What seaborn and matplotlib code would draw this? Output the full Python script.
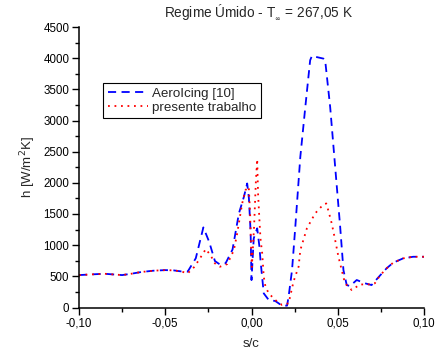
import matplotlib
matplotlib.use("Agg")
import matplotlib.pyplot as plt
import seaborn as sns
import pandas as pd
from matplotlib.ticker import MultipleLocator, FuncFormatter

# ---- data ----
s_aero = [-0.100, -0.090, -0.085, -0.080, -0.075, -0.070, -0.064, -0.057, -0.050, -0.045,
          -0.041, -0.037, -0.0323, -0.0279, -0.0245, -0.0212, -0.0183, -0.015, -0.011, -0.0073,
          -0.0044, -0.0025, -0.0015, -0.0005, 0.0, 0.0013, 0.0033, 0.0046, 0.0052, 0.0071,
          0.0100, 0.0138, 0.0177, 0.0206, 0.0215, 0.0235, 0.0254, 0.0283, 0.0312, 0.0340,
          0.0350, 0.0417, 0.0427, 0.0456, 0.0485, 0.0514, 0.0533, 0.0552, 0.0571, 0.0610,
          0.0658, 0.0696, 0.0744, 0.0783, 0.0821, 0.0879, 0.0937, 0.100]
h_aero = [520, 535, 541, 530, 520, 540, 569, 590, 600, 595,
          580, 575, 790, 1285, 1050, 745, 690, 710, 930, 1510,
          1776, 1990, 1750, 1200, 440, 1110, 1270, 975, 760, 227,
          120, 104, 29, 30, 173, 600, 1295, 2417, 3218, 3966,
          4035, 3993, 3966, 3218, 2256, 1295, 600, 360, 344, 441,
          388, 360, 510, 628, 718, 788, 814, 814]

s_pres = [-0.100, -0.090, -0.085, -0.080, -0.075, -0.070, -0.064, -0.057, -0.050, -0.045,
          -0.041, -0.037, -0.0334, -0.0305, -0.0265, -0.0237, -0.0212, -0.0183, -0.014, -0.0102,
          -0.0083, -0.0054, -0.0035, -0.0016, -0.0008, -0.0002, 0.0002, 0.0015, 0.0025, 0.0033,
          0.0038, 0.0046, 0.0052, 0.0062, 0.0071, 0.0081, 0.0100, 0.0138, 0.0177, 0.0215,
          0.0244, 0.0273, 0.0283, 0.0321, 0.0369, 0.0408, 0.0433, 0.0446, 0.0465, 0.0485,
          0.0504, 0.0523, 0.0542, 0.0581, 0.0629, 0.0677, 0.0715, 0.0744, 0.0783, 0.0821,
          0.0879, 0.0937, 0.100]
h_pres = [520, 535, 541, 530, 520, 540, 569, 590, 600, 595,
          580, 548, 644, 761, 937, 836, 708, 654, 697, 921,
          1189, 1670, 1883, 1936, 1500, 900, 650, 1300, 2000, 2380,
          1830, 1402, 1109, 868, 494, 333, 227, 120, 40, 67,
          420, 654, 921, 1269, 1510, 1627, 1670, 1551, 1349, 1082,
          814, 601, 388, 280, 370, 370, 388, 510, 628, 718,
          788, 814, 814]

labels = ["AeroIcing [10]", "presente trabalho"]

df = pd.concat([
    pd.DataFrame({"s/c": s_aero, "h": h_aero, "serie": labels[0]}),
    pd.DataFrame({"s/c": s_pres, "h": h_pres, "serie": labels[1]}),
], ignore_index=True)

sns.set_style("ticks")
plt.rcParams["font.family"] = ["Liberation Sans", "DejaVu Sans"]
plt.rcParams["mathtext.fontset"] = "dejavusans"

fig = plt.figure(figsize=(4.36, 3.52), dpi=100)
ax = fig.add_axes([79 / 436, 1 - 307.5 / 352, (424 - 79) / 436, (307.5 - 27) / 352])

sns.lineplot(data=df, x="s/c", y="h", hue="serie", style="serie",
             palette={labels[0]: "#0000ff", labels[1]: "#ff0000"},
             dashes={labels[0]: (4.5, 3), labels[1]: (1, 2.6)},
             sort=False, estimator=None, units="serie", lw=1.3, ax=ax, legend=True)

ax.set_xlim(-0.10, 0.10)
ax.set_ylim(0, 4500)
ax.xaxis.set_major_locator(MultipleLocator(0.05))
ax.xaxis.set_minor_locator(MultipleLocator(0.025))
ax.yaxis.set_major_locator(MultipleLocator(500))
ax.yaxis.set_minor_locator(MultipleLocator(250))
ax.xaxis.set_major_formatter(FuncFormatter(lambda v, p: f"{v:.2f}".replace(".", ",").replace("-0,00", "0,00")))
ax.tick_params(axis="both", which="major", length=5, width=1, labelsize=8.3, colors="black", pad=2)
ax.tick_params(axis="both", which="minor", length=3, width=1, colors="black")
for sp in ["left", "bottom"]:
    ax.spines[sp].set_linewidth(1.1)
    ax.spines[sp].set_color("black")
sns.despine(ax=ax)

ax.set_xlabel("s/c", fontsize=9.5, labelpad=6)
ax.set_ylabel("h [W/m$^2$K]", fontsize=9.5, labelpad=4)
ax.set_title("Regime Úmido - T$_{_\\infty}$ = 267,05 K", fontsize=9.8, pad=7, x=0.52)

leg = ax.legend(loc="upper left", bbox_to_anchor=(0.07, 0.80), fontsize=9.6,
                frameon=True, fancybox=False, edgecolor="black", framealpha=1,
                handlelength=3.0, handletextpad=0.3, borderpad=0.35, labelspacing=0.1,
                borderaxespad=0)
leg.get_frame().set_linewidth(0.8)

fig.savefig("out.png", dpi=100)
